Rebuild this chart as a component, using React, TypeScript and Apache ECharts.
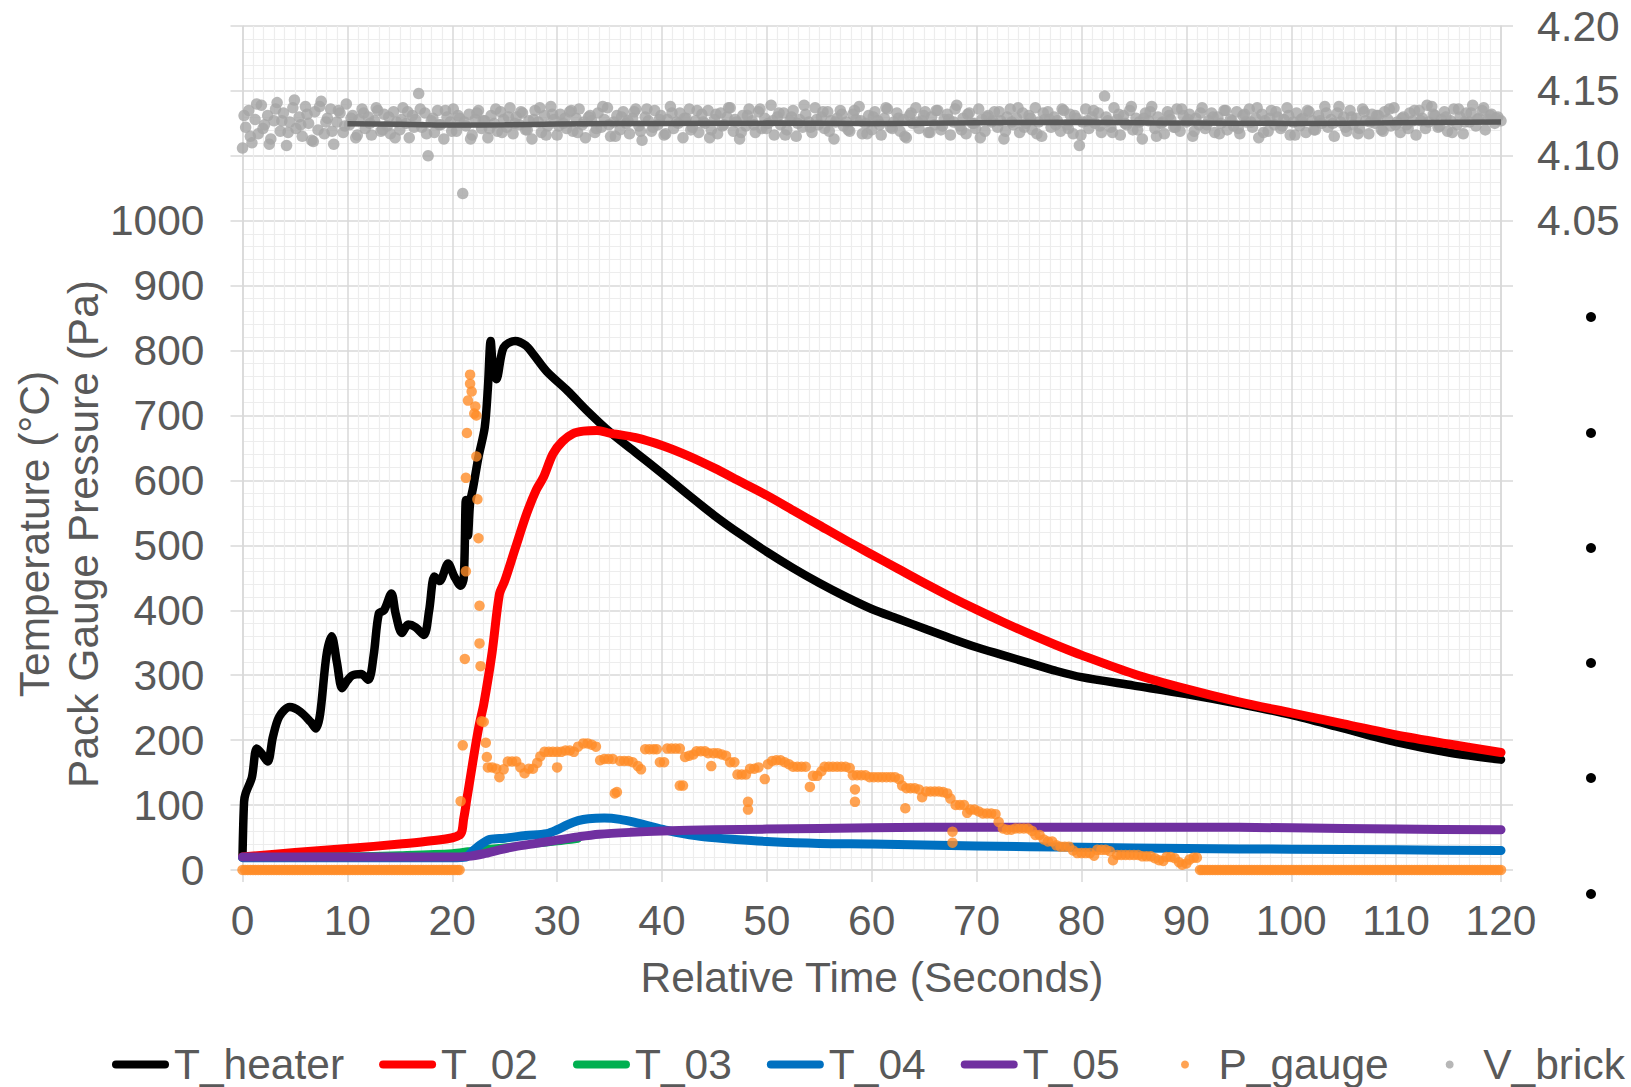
import React, { useEffect, useRef } from "react";
import * as echarts from "echarts";

const FONT = "'Liberation Sans', Arial, Helvetica, sans-serif";
const TEXT = "#595959";
const FS = 42.5;

const lineNames = ["T_heater", "T_02", "T_03", "T_04", "T_05"];
const dotNames = ["P_gauge", "V_brick"];
const xTicks = { min: 0, max: 120, step: 10 };

const tHeater: [number, number][] = [
  [0, 20], [0.15, 105], [0.3, 118], [0.9, 143], [1.35, 187], [1.8, 180], [2.4, 167], [2.9, 205],
  [3.5, 236], [4.5, 251], [5.5, 244], [6.5, 228], [7.0, 218], [7.4, 240], [8.0, 330], [8.5, 360],
  [9.0, 320], [9.5, 280], [10.0, 292], [10.5, 300], [11.3, 302], [12.0, 293], [12.5, 330], [13.0, 395],
  [13.5, 400], [14.2, 426], [14.6, 395], [15.2, 365], [15.8, 378], [16.5, 374], [17.3, 362], [17.8, 400],
  [18.3, 452], [18.8, 445], [19.6, 472], [20.2, 452], [20.8, 438], [21.1, 450], [21.3, 570], [21.5, 515],
  [21.7, 565], [22.0, 590], [22.5, 636], [23.1, 682], [23.4, 743], [23.66, 815], [23.9, 770], [24.2, 756],
  [24.9, 805], [26.0, 815], [27.0, 808], [27.7, 795], [29.0, 768], [31.0, 738], [33.0, 705], [35.0, 675],
  [37.5, 643], [40, 611], [42.5, 578], [45, 546], [47.5, 517], [50, 490], [52.5, 465], [55, 442],
  [57.5, 421], [60, 402], [62.5, 387], [65, 372], [67.5, 357], [70, 343], [72.5, 331], [75, 319],
  [77.5, 307], [80, 297], [85, 284], [90, 271], [95, 256], [100, 239], [105, 218], [110, 197],
  [115, 181], [120, 170],
];

const t02: [number, number][] = [
  [0, 20], [5, 27], [10, 33], [15, 40], [18, 45], [20.7, 54], [21.1, 80], [21.4, 110], [21.7, 140],
  [22.2, 190], [22.6, 226], [23.0, 255], [23.8, 335], [24.5, 425], [25.0, 445], [26.0, 495], [27.1, 549],
  [28.0, 585], [28.7, 605], [29.6, 641], [30.5, 660], [31.5, 672], [32.5, 676], [33.8, 677], [35, 673],
  [37.5, 666], [40, 654], [42.5, 638], [45, 619], [47.5, 598], [50, 577], [52.5, 554], [55, 531],
  [57.5, 508], [60, 486], [62.5, 464], [65, 442], [67.5, 421], [70, 401], [72.5, 382], [75, 364],
  [77.5, 347], [80, 331], [85, 302], [90, 279], [95, 259], [100, 242], [105, 225], [110, 208],
  [115, 194], [120, 181],
];

const t03: [number, number][] = [
  [0, 20], [5, 21], [10, 22], [15, 24], [20, 27], [21.5, 30], [23, 33], [25, 36], [27.5, 39], [30, 43], [32, 47],
];

const t04: [number, number][] = [
  [0, 19], [10, 19], [20, 19], [21.3, 20], [22, 30], [22.8, 40], [23.6, 47], [25, 49], [27, 53], [29, 56],
  [30, 62], [31, 70], [32, 76], [33, 79], [34.5, 80], [36, 78], [37.5, 73], [39, 67], [40.5, 61], [42, 56],
  [44, 51], [47, 47], [50, 44], [55, 41], [60, 40], [70, 37], [80, 35], [90, 33], [100, 32], [110, 31], [120, 30],
];

const t05: [number, number][] = [
  [0, 20], [10, 20], [20, 20], [21.5, 21], [23, 25], [24.5, 31], [26, 36], [28, 41], [30, 46], [32, 51],
  [34, 55], [37, 58], [40, 60], [45, 62], [50, 63], [60, 65], [70, 66], [80, 66], [90, 66], [100, 65],
  [110, 63], [120, 62],
];

// P_gauge readings at zero (before ignition and after 91 s)
const pGaugeZeroTimes: number[] = [
  0, 0.25, 0.5, 0.75, 1, 1.25, 1.5, 1.75, 2, 2.25, 2.5, 2.75, 3, 3.25, 3.5, 3.75, 4, 4.25, 4.5, 4.75,
  5, 5.25, 5.5, 5.75, 6, 6.25, 6.5, 6.75, 7, 7.25, 7.5, 7.75, 8, 8.25, 8.5, 8.75, 9, 9.25, 9.5, 9.75,
  10, 10.25, 10.5, 10.75, 11, 11.25, 11.5, 11.75, 12, 12.25, 12.5, 12.75, 13, 13.25, 13.5, 13.75,
  14, 14.25, 14.5, 14.75, 15, 15.25, 15.5, 15.75, 16, 16.25, 16.5, 16.75, 17, 17.25, 17.5, 17.75,
  18, 18.25, 18.5, 18.75, 19, 19.25, 19.5, 19.75, 20, 20.25, 20.5, 20.7,
  91.3, 91.5, 91.75, 92, 92.25, 92.5, 92.75, 93, 93.25, 93.5, 93.75, 94, 94.25, 94.5, 94.75,
  95, 95.25, 95.5, 95.75, 96, 96.25, 96.5, 96.75, 97, 97.25, 97.5, 97.75, 98, 98.25, 98.5, 98.75,
  99, 99.25, 99.5, 99.75, 100, 100.25, 100.5, 100.75, 101, 101.25, 101.5, 101.75, 102, 102.25, 102.5,
  102.75, 103, 103.25, 103.5, 103.75, 104, 104.25, 104.5, 104.75, 105, 105.25, 105.5, 105.75, 106,
  106.25, 106.5, 106.75, 107, 107.25, 107.5, 107.75, 108, 108.25, 108.5, 108.75, 109, 109.25, 109.5,
  109.75, 110, 110.25, 110.5, 110.75, 111, 111.25, 111.5, 111.75, 112, 112.25, 112.5, 112.75, 113,
  113.25, 113.5, 113.75, 114, 114.25, 114.5, 114.75, 115, 115.25, 115.5, 115.75, 116, 116.25, 116.5,
  116.75, 117, 117.25, 117.5, 117.75, 118, 118.25, 118.5, 118.75, 119, 119.25, 119.5, 119.75, 120,
];

const pGaugeActive: [number, number][] = [
  [20.8, 106], [21.0, 192], [21.2, 325], [21.3, 460], [21.3, 604], [21.4, 673], [21.5, 723], [21.7, 763],
  [21.7, 749], [21.85, 737], [22.2, 714], [22.1, 703], [22.3, 700], [22.3, 637], [22.4, 571], [22.5, 511],
  [22.6, 407], [22.6, 349], [22.7, 314], [22.8, 229], [23.0, 228], [23.2, 196], [23.3, 174], [23.4, 158],
  [23.8, 158], [24.2, 156], [24.5, 143], [24.9, 155], [25.3, 167], [25.7, 167], [26.1, 167], [26.5, 158],
  [26.9, 149], [27.3, 156], [27.7, 156], [28.1, 165], [28.4, 175], [28.8, 182], [29.2, 182], [29.6, 182],
  [30.0, 158], [30.0, 182], [30.4, 182], [30.8, 184], [31.2, 184], [31.6, 182], [32.0, 190], [32.5, 195],
  [32.9, 195], [33.3, 193], [33.7, 190], [34.1, 169], [34.5, 171], [34.9, 171], [35.3, 171], [35.5, 118],
  [35.7, 120], [36.0, 168], [36.4, 168], [36.8, 168], [37.2, 166], [37.7, 160], [38.0, 155], [38.4, 186],
  [38.8, 186], [39.2, 186], [39.5, 186], [39.8, 166], [40.2, 166], [40.5, 187], [40.9, 187], [41.3, 187],
  [41.7, 187], [41.7, 130], [42.0, 130], [42.2, 174], [42.6, 176], [43.0, 178], [43.3, 183], [43.7, 183],
  [44.1, 183], [44.4, 180], [44.7, 160], [44.9, 180], [45.3, 180], [45.7, 178], [46.1, 176], [46.5, 166],
  [46.9, 166], [47.2, 147], [47.6, 147], [48.0, 147], [48.2, 105], [48.2, 93], [48.4, 156], [48.8, 156],
  [49.2, 158], [49.8, 140], [50.1, 163], [50.5, 168], [50.9, 169], [51.3, 169], [51.7, 166], [52.1, 163],
  [52.5, 159], [52.9, 159], [53.3, 159], [53.7, 159], [54.1, 128], [54.4, 145], [54.8, 145], [55.2, 152],
  [55.5, 159], [55.9, 159], [56.3, 159], [56.7, 159], [57.1, 159], [57.5, 159], [57.9, 157], [58.2, 146],
  [58.4, 124], [58.4, 105], [58.6, 146], [59.0, 146], [59.4, 146], [59.8, 143], [60.2, 143], [60.6, 143],
  [61.0, 143], [61.4, 143], [61.8, 143], [62.2, 143], [62.6, 140], [62.9, 130], [63.2, 95], [63.3, 126],
  [63.7, 126], [64.1, 126], [64.5, 124], [64.8, 112], [65.2, 121], [65.6, 121], [66.0, 121], [66.4, 121],
  [66.8, 120], [67.2, 118], [67.5, 110], [67.7, 59], [67.7, 42], [68.0, 100], [68.4, 100], [68.8, 100],
  [69.1, 88], [69.4, 93], [69.8, 93], [70.2, 90], [70.6, 87], [71.0, 87], [71.4, 87], [71.8, 86],
  [72.1, 74], [72.5, 64], [72.9, 62], [73.3, 62], [73.7, 64], [74.1, 64], [74.5, 64], [74.9, 64],
  [75.3, 60], [75.6, 54], [76.0, 54], [76.4, 47], [76.8, 44], [77.2, 44], [77.6, 38], [78.0, 36],
  [78.4, 36], [78.8, 36], [79.2, 30], [79.6, 26], [80.0, 26], [80.4, 26], [80.8, 26], [81.2, 22],
  [81.5, 31], [81.9, 31], [82.3, 31], [82.7, 29], [83.0, 15], [83.4, 23], [83.8, 23], [84.2, 23],
  [84.6, 23], [85.0, 23], [85.4, 23], [85.8, 21], [86.2, 21], [86.6, 21], [87.0, 18], [87.4, 15],
  [87.8, 14], [88.1, 20], [88.5, 20], [88.9, 18], [89.3, 12], [89.6, 8], [90.0, 10], [90.3, 16],
  [90.7, 19], [91.0, 19],
];

// V_brick sampled every 0.3 s from 0 to 120 s
const vBrickStep = 0.3;
const vBrick: number[] = [
  4.106, 4.122, 4.135, 4.110, 4.128, 4.117, 4.139, 4.124, 4.131, 4.113,
  4.127, 4.141, 4.119, 4.133, 4.108, 4.126, 4.137, 4.121, 4.130, 4.115,
  4.138, 4.125, 4.112, 4.134, 4.120, 4.142, 4.117, 4.129, 4.136, 4.109,
  4.126, 4.133, 4.118, 4.140, 4.124, 4.131, 4.114, 4.128, 4.136, 4.121,
  4.130, 4.116, 4.127, 4.135, 4.119, 4.132, 4.123, 4.117, 4.134, 4.126,
  4.120, 4.137, 4.125, 4.114, 4.131, 4.128, 4.148, 4.122, 4.133, 4.100,
  4.127, 4.118, 4.135, 4.124, 4.113, 4.130, 4.126, 4.136, 4.119, 4.129,
  4.071, 4.123, 4.132, 4.116, 4.128, 4.135, 4.121, 4.127, 4.114, 4.131,
  4.125, 4.119, 4.134, 4.128, 4.122, 4.137, 4.117, 4.130, 4.124, 4.133,
  4.120, 4.127, 4.113, 4.135, 4.126, 4.118, 4.131, 4.123, 4.138, 4.128,
  4.116, 4.132, 4.125, 4.121, 4.134, 4.119, 4.129, 4.136, 4.124, 4.114,
  4.130, 4.127, 4.118, 4.133, 4.122, 4.128, 4.137, 4.115, 4.126, 4.131,
  4.120, 4.134, 4.125, 4.117, 4.129, 4.136, 4.123, 4.112, 4.130, 4.127,
  4.119, 4.135, 4.124, 4.131, 4.116, 4.128, 4.138, 4.121, 4.126, 4.133,
  4.114, 4.129, 4.136, 4.122, 4.127, 4.118, 4.132, 4.125, 4.135, 4.120,
  4.128, 4.117, 4.133, 4.124, 4.130, 4.137, 4.119, 4.126, 4.113, 4.131,
  4.123, 4.136, 4.127, 4.118, 4.134, 4.121, 4.129, 4.125, 4.139, 4.116,
  4.130, 4.124, 4.133, 4.120, 4.127, 4.135, 4.115, 4.128, 4.122, 4.132,
  4.126, 4.118, 4.137, 4.124, 4.130, 4.121, 4.134, 4.127, 4.113, 4.129,
  4.135, 4.123, 4.126, 4.119, 4.132, 4.128, 4.138, 4.117, 4.125, 4.131,
  4.120, 4.134, 4.127, 4.116, 4.129, 4.136, 4.122, 4.126, 4.133, 4.119,
  4.128, 4.114, 4.131, 4.125, 4.137, 4.121, 4.127, 4.134, 4.118, 4.130,
  4.124, 4.135, 4.120, 4.128, 4.132, 4.116, 4.126, 4.139, 4.123, 4.129,
  4.117, 4.133, 4.125, 4.121, 4.136, 4.128, 4.119, 4.131, 4.126, 4.134,
  4.122, 4.127, 4.113, 4.130, 4.136, 4.124, 4.129, 4.118, 4.133, 4.125,
  4.131, 4.120, 4.137, 4.126, 4.115, 4.128, 4.134, 4.122, 4.130, 4.127,
  4.119, 4.135, 4.124, 4.132, 4.117, 4.129, 4.108, 4.126, 4.136, 4.121,
  4.130, 4.125, 4.133, 4.118, 4.146, 4.127, 4.122, 4.137, 4.128, 4.116,
  4.131, 4.124, 4.135, 4.120, 4.129, 4.126, 4.113, 4.133, 4.127, 4.138,
  4.121, 4.130, 4.125, 4.117, 4.134, 4.128, 4.122, 4.136, 4.119, 4.131,
  4.126, 4.132, 4.115, 4.129, 4.124, 4.137, 4.121, 4.127, 4.133, 4.118,
  4.130, 4.125, 4.135, 4.120, 4.128, 4.123, 4.134, 4.117, 4.131, 4.126,
  4.136, 4.122, 4.129, 4.114, 4.132, 4.127, 4.119, 4.135, 4.124, 4.130,
  4.121, 4.128, 4.137, 4.116, 4.126, 4.133, 4.123, 4.129, 4.118, 4.134,
  4.127, 4.120, 4.131, 4.125, 4.138, 4.122, 4.128, 4.115, 4.133, 4.126,
  4.130, 4.119, 4.135, 4.124, 4.129, 4.121, 4.136, 4.127, 4.117, 4.132,
  4.125, 4.131, 4.120, 4.134, 4.128, 4.123, 4.137, 4.126, 4.118, 4.130,
  4.124, 4.133, 4.127, 4.116, 4.135, 4.129, 4.121, 4.126, 4.138, 4.131,
  4.122, 4.128, 4.134, 4.119, 4.127, 4.136, 4.124, 4.130, 4.117, 4.133,
  4.126, 4.139, 4.123, 4.129, 4.135, 4.120, 4.128, 4.132, 4.125, 4.130,
  4.127,
];

// second V_brick channel of readings, sampled every 0.6 s starting at 0.15 s
const vBrickBStart = 0.15;
const vBrickBStep = 0.6;
const vBrickB: number[] = [
  4.131, 4.115, 4.140, 4.121, 4.109, 4.136, 4.127, 4.118, 4.143, 4.124,
  4.132, 4.111, 4.138, 4.126, 4.119, 4.135, 4.123, 4.129, 4.116, 4.133,
  4.125, 4.137, 4.120, 4.130, 4.114, 4.128, 4.134, 4.122, 4.136, 4.117,
  4.129, 4.124, 4.135, 4.119, 4.131, 4.126, 4.113, 4.133, 4.127, 4.121,
  4.136, 4.118, 4.130, 4.125, 4.134, 4.120, 4.128, 4.137, 4.116, 4.132,
  4.123, 4.129, 4.135, 4.118, 4.126, 4.131, 4.121, 4.138, 4.124, 4.115,
  4.130, 4.127, 4.134, 4.119, 4.136, 4.122, 4.128, 4.117, 4.133, 4.125,
  4.129, 4.120, 4.135, 4.126, 4.114, 4.132, 4.123, 4.137, 4.128, 4.118,
  4.131, 4.124, 4.136, 4.121, 4.127, 4.133, 4.116, 4.130, 4.125, 4.139,
  4.122, 4.128, 4.134, 4.119, 4.126, 4.132, 4.120, 4.135, 4.127, 4.117,
  4.130, 4.124, 4.137, 4.121, 4.129, 4.115, 4.133, 4.126, 4.131, 4.118,
  4.135, 4.123, 4.128, 4.136, 4.120, 4.132, 4.125, 4.114, 4.130, 4.127,
  4.134, 4.119, 4.126, 4.137, 4.122, 4.129, 4.117, 4.133, 4.128, 4.124,
  4.136, 4.121, 4.131, 4.116, 4.127, 4.135, 4.123, 4.130, 4.118, 4.132,
  4.125, 4.138, 4.120, 4.129, 4.134, 4.115, 4.126, 4.131, 4.122, 4.136,
  4.128, 4.119, 4.133, 4.124, 4.130, 4.117, 4.135, 4.127, 4.121, 4.132,
  4.126, 4.137, 4.118, 4.129, 4.134, 4.123, 4.131, 4.116, 4.128, 4.135,
  4.120, 4.127, 4.133, 4.125, 4.138, 4.122, 4.130, 4.117, 4.134, 4.126,
  4.131, 4.119, 4.136, 4.124, 4.129, 4.121, 4.135, 4.127, 4.139, 4.132,
  4.123, 4.130, 4.118, 4.136, 4.126, 4.133, 4.128, 4.137, 4.131, 4.129,
];

// moving-average trend of V_brick
const vBrickTrend: [number, number][] = [
  [10, 4.1248], [15, 4.1243], [20, 4.1237], [25, 4.1239], [30, 4.1245], [40, 4.1250], [50, 4.1252],
  [60, 4.1250], [70, 4.1255], [80, 4.1258], [90, 4.1252], [100, 4.1250], [110, 4.1255], [120, 4.1260],
];

const LINE_ICON = "path://M4,0 L53,0 A4,4 0 0 1 53,8 L4,8 A4,4 0 0 1 4,0 Z";

export default function App() {
  const ref = useRef<HTMLDivElement>(null);
  useEffect(() => {
    document.body.style.margin = "0";
    if (!ref.current) return;
    const chart = echarts.init(ref.current, undefined, { renderer: "svg" });

    const lineSeries = (name: string, data: [number, number][], color: string, width: number) => ({
      name,
      type: "line",
      data,
      showSymbol: false,
      symbol: "none",
      smooth: 0.3,
      lineStyle: { color, width, cap: "round", join: "round" },
      itemStyle: { color },
      yAxisIndex: 0,
      z: 3,
    });

    const pGaugeData: [number, number][] = [
      ...pGaugeZeroTimes.filter((t) => t < 50).map((t) => [t, 0] as [number, number]),
      ...pGaugeActive,
      ...pGaugeZeroTimes.filter((t) => t > 50).map((t) => [t, 0] as [number, number]),
    ];
    const vBrickData = [
      ...vBrick.map((v, i) => [Math.round(i * vBrickStep * 100) / 100, v]),
      ...vBrickB.map((v, i) => [Math.round((vBrickBStart + i * vBrickBStep) * 100) / 100, v]),
    ];

    const axisGray = "#D9D9D9";
    const minorGray = "#EDEDED";
    const legendText = { fontSize: FS, color: TEXT, fontFamily: FONT };

    const option: any = {
      animation: false,
      backgroundColor: "#ffffff",
      textStyle: { fontFamily: FONT },
      grid: { left: 242.5, right: 130, top: 26, bottom: 217, containLabel: false },
      legend: [
        {
          data: lineNames.map((n) => ({ name: n, icon: LINE_ICON })),
          left: 112,
          top: 1043,
          padding: 0,
          itemWidth: 57,
          itemHeight: 8,
          itemGap: 35,
          textStyle: legendText,
        },
        {
          data: dotNames.map((n) => ({ name: n, icon: "circle" })),
          left: 1181,
          top: 1043,
          padding: 0,
          itemWidth: 57,
          itemHeight: 8,
          itemGap: 57,
          textStyle: legendText,
        },
      ],
      xAxis: {
        type: "value",
        min: xTicks.min,
        max: xTicks.max,
        interval: xTicks.step,
        axisLine: { show: true, onZero: false, lineStyle: { color: axisGray, width: 1.5 } },
        axisTick: { show: true, length: 12, lineStyle: { color: axisGray, width: 1.5 } },
        axisLabel: { fontSize: FS, color: TEXT, margin: 29, fontFamily: FONT },
        splitLine: { show: true, lineStyle: { color: axisGray, width: 1.5 } },
        minorTick: { show: false, splitNumber: 10 },
        minorSplitLine: { show: true, lineStyle: { color: minorGray, width: 1.2 } },
      },
      yAxis: [
        {
          type: "value",
          position: "left",
          min: 0,
          max: 1300,
          interval: 100,
          axisLine: { show: true, lineStyle: { color: axisGray, width: 1.5 } },
          axisTick: { show: true, length: 12, lineStyle: { color: axisGray, width: 1.5 } },
          axisLabel: {
            fontSize: FS,
            color: TEXT,
            margin: 38,
            fontFamily: FONT,
            formatter: (v: number) => (v <= 1000 ? String(v) : ""),
          },
          splitLine: { show: true, lineStyle: { color: axisGray, width: 1.5 } },
          minorTick: { show: false, splitNumber: 5 },
          minorSplitLine: { show: true, lineStyle: { color: minorGray, width: 1.2 } },
        },
        {
          type: "value",
          position: "right",
          min: 3.55,
          max: 4.2,
          interval: 0.05,
          axisLine: { show: true, lineStyle: { color: axisGray, width: 1.5 } },
          axisTick: { show: true, length: 12, lineStyle: { color: axisGray, width: 1.5 } },
          axisLabel: {
            fontSize: FS,
            color: TEXT,
            margin: 36,
            fontFamily: FONT,
            formatter: (v: number) => (v >= 4.049 ? v.toFixed(2) : ""),
          },
          splitLine: { show: false },
        },
      ],
      series: [
        lineSeries("T_heater", tHeater, "#000000", 8.5),
        lineSeries("T_02", t02, "#FF0000", 9),
        lineSeries("T_03", t03, "#00B050", 6.5),
        lineSeries("T_04", t04, "#0070C0", 9),
        lineSeries("T_05", t05, "#7030A0", 9),
        {
          name: "P_gauge",
          type: "scatter",
          data: pGaugeData,
          symbol: "circle",
          symbolSize: 10.5,
          itemStyle: { color: "#FF8C28" },
          yAxisIndex: 0,
          z: 4,
        },
        {
          name: "V_brick",
          type: "scatter",
          data: vBrickData,
          symbol: "circle",
          symbolSize: 11.5,
          itemStyle: { color: "#A5A5A5" },
          yAxisIndex: 1,
          z: 4,
        },
        {
          name: "V_brick trend",
          type: "line",
          data: vBrickTrend,
          showSymbol: false,
          symbol: "none",
          smooth: true,
          lineStyle: { color: "#595959", width: 5.5 },
          itemStyle: { color: "#595959" },
          yAxisIndex: 1,
          z: 5,
        },
      ],
      graphic: [
        {
          type: "text",
          x: 34,
          y: 534,
          rotation: Math.PI / 2,
          style: { text: "Temperature (°C)", fontSize: FS, fill: TEXT, fontFamily: FONT, align: "center", verticalAlign: "middle" },
        },
        {
          type: "text",
          x: 83,
          y: 534,
          rotation: Math.PI / 2,
          style: { text: "Pack Gauge Pressure (Pa)", fontSize: FS, fill: TEXT, fontFamily: FONT, align: "center", verticalAlign: "middle" },
        },
        {
          type: "text",
          x: 872,
          y: 977,
          style: { text: "Relative Time (Seconds)", fontSize: FS, fill: TEXT, fontFamily: FONT, align: "center", verticalAlign: "middle" },
        },
        ...[317, 433, 548, 663, 778, 894].map((y) => ({
          type: "circle",
          shape: { cx: 1591, cy: y, r: 5 },
          style: { fill: "#000000" },
        })),
      ],
    };

    chart.setOption(option);
    return () => chart.dispose();
  }, []);

  return <div ref={ref} style={{ width: 1631, height: 1087 }} />;
}
